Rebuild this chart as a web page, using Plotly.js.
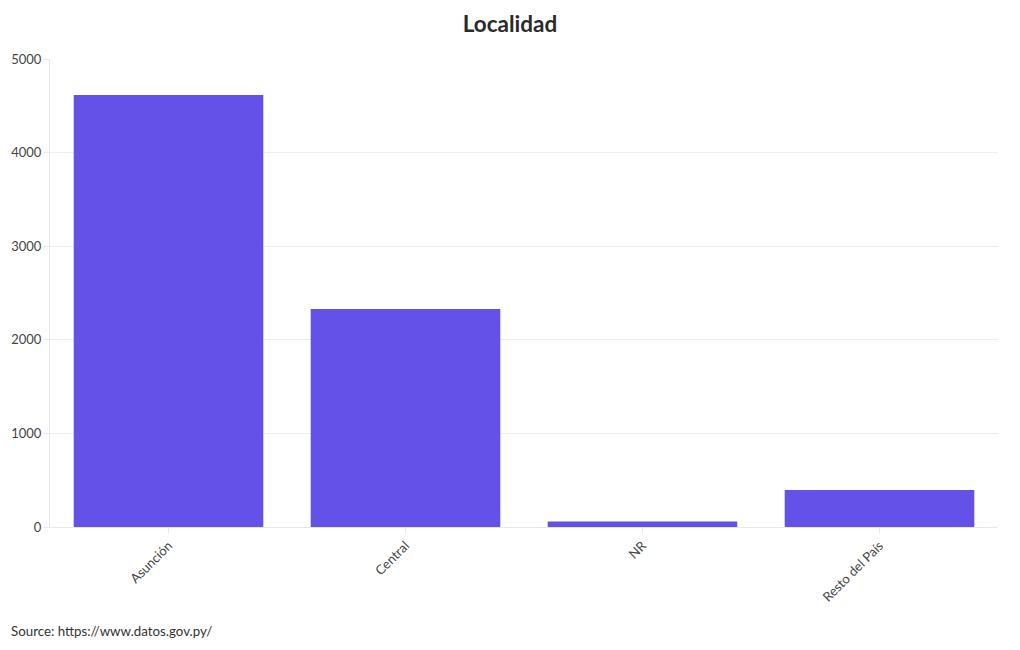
<!DOCTYPE html>
<html>
<head>
<meta charset="utf-8">
<script src="https://cdn.plot.ly/plotly-3.0.1.min.js"></script>
<style>html,body{margin:0;padding:0;background:#fff;}</style>
</head>
<body>
<div id="chart" style="width:1020px;height:650px;"></div>
<script>
const categories = ["Asunción", "Central", "NR", "Resto del País"];
const values = [4615, 2329, 60, 395];
const yTicks = [0, 1000, 2000, 3000, 4000, 5000];

const FONT = "Lato, 'Source Sans Pro', 'Noto Sans', sans-serif";

Plotly.newPlot("chart", [{
  type: "bar",
  x: categories,
  y: values,
  marker: {color: "#6351e8"},
  hoverinfo: "x+y"
}], {
  width: 1020,
  height: 650,
  margin: {l: 50, r: 22, t: 59, b: 123},
  paper_bgcolor: "#fff",
  plot_bgcolor: "#fff",
  font: {family: FONT, size: 13, color: "#444"},
  bargap: 0.2,
  title: {text: "<b>Localidad</b>", x: 0.5, xanchor: "center", y: 0.963, yanchor: "middle",
          font: {family: FONT, size: 22.5, color: "#2a2a2a"}},
  xaxis: {
    type: "category",
    tickangle: -45,
    showgrid: false,
    showline: true,
    linecolor: "#e8e8e8",
    ticks: "outside",
    ticklen: 5,
    tickcolor: "#e8e8e8",
    tickfont: {family: FONT, size: 13, color: "#444"}
  },
  yaxis: {
    range: [0, 5000],
    tickvals: yTicks,
    showgrid: true,
    gridcolor: "#eeeeee",
    zeroline: false,
    showline: true,
    linecolor: "#e8e8e8",
    ticks: "outside",
    ticklen: 5,
    tickcolor: "#e8e8e8",
    tickfont: {family: FONT, size: 13, color: "#444"}
  },
  annotations: [{
    text: "Source: https://www.datos.gov.py/",
    xref: "paper", yref: "paper",
    x: -0.043, y: -0.222,
    xanchor: "left", yanchor: "middle",
    showarrow: false,
    font: {family: FONT, size: 13.3, color: "#333"}
  }],
  showlegend: false
}, {displayModeBar: false});
</script>
</body>
</html>
